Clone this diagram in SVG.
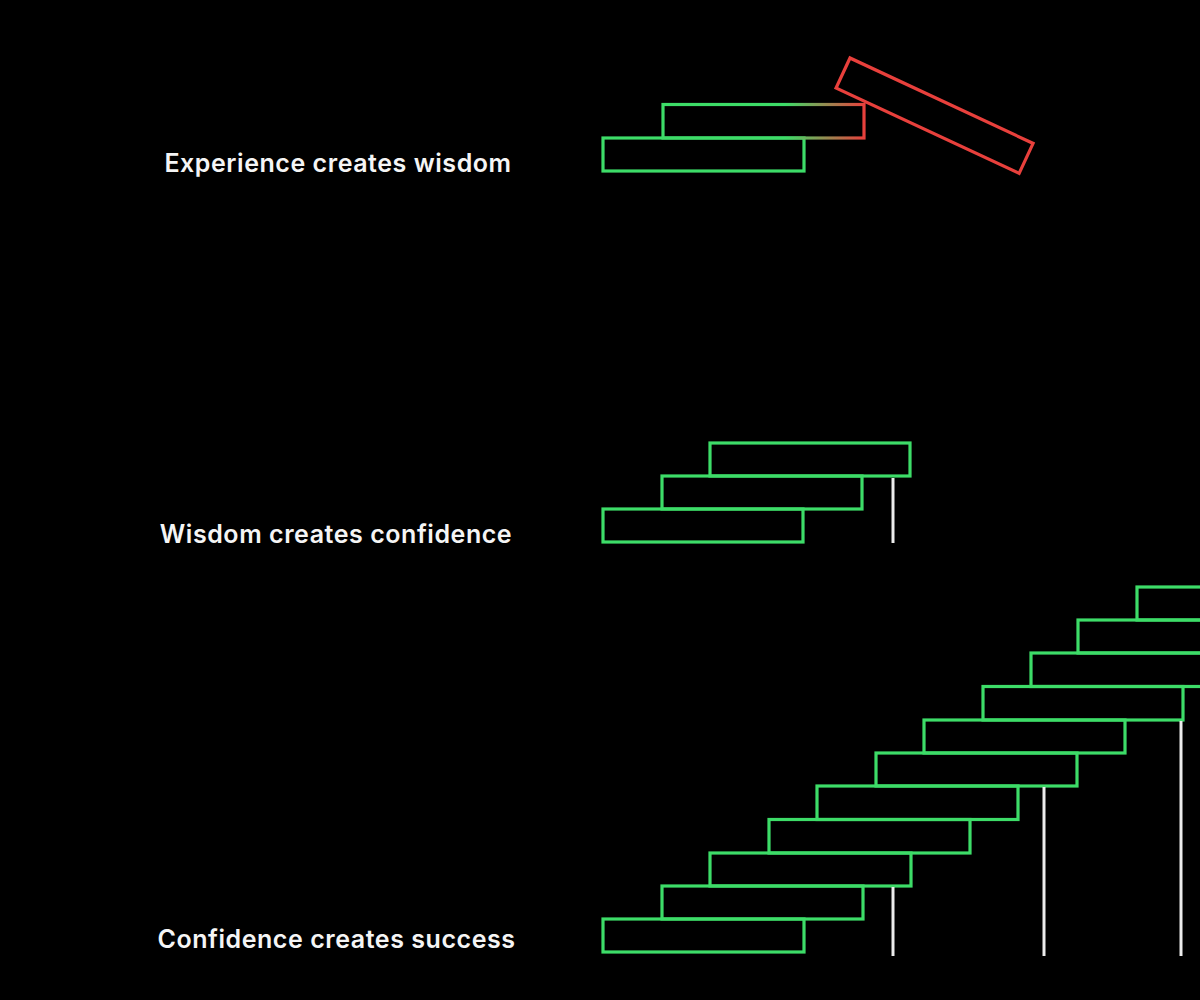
<svg xmlns="http://www.w3.org/2000/svg" width="1200" height="1000" viewBox="0 0 1200 1000">
  <defs>
    <linearGradient id="fade" gradientUnits="userSpaceOnUse" x1="785" y1="0" x2="864" y2="0">
      <stop offset="0" stop-color="#3ddc68"/>
      <stop offset="1" stop-color="#e8403c"/>
    </linearGradient>
  </defs>
  <style>
    .step { fill: none; stroke: #3ddc68; stroke-width: 3.2; }
    .fall { fill: none; stroke: #e8403c; stroke-width: 3.2; }
    .post { stroke: #ececec; stroke-width: 3; fill: none; }
    .label { fill: #f5f5f5; font-family: Inter, "Liberation Sans", sans-serif; font-weight: 600; font-size: 25px; letter-spacing: 0.55px; text-anchor: middle; }
  </style>
  <rect width="1200" height="1000" fill="#000"/>

  <g id="stage-experience">
    <text class="label" x="338" y="172">Experience creates wisdom</text>
    <rect class="step" x="603" y="138" width="201" height="33"/>
    <rect x="663" y="104.5" width="201" height="33.5" fill="none" stroke="url(#fade)" stroke-width="3.2"/>
    <rect class="fall" x="0" y="0" width="202" height="33" transform="translate(850,58) rotate(25)"/>
  </g>

  <g id="stage-wisdom">
    <text class="label" x="336" y="543">Wisdom creates confidence</text>
    <rect class="step" x="603" y="509" width="200" height="33"/>
    <rect class="step" x="662" y="476" width="200" height="33"/>
    <rect class="step" x="710" y="443" width="200" height="33"/>
  </g>

  <g id="stage-confidence">
    <text class="label" x="336.5" y="948">Confidence creates success</text>
    <rect class="step" x="603" y="919" width="201" height="33"/>
    <rect class="step" x="662" y="886" width="201" height="33"/>
    <rect class="step" x="710" y="853" width="201" height="33"/>
    <rect class="step" x="769" y="819.5" width="201" height="33.5"/>
    <rect class="step" x="817" y="786" width="201" height="33.5"/>
    <rect class="step" x="876" y="753" width="201" height="33"/>
    <rect class="step" x="924" y="720" width="201" height="33"/>
    <rect class="step" x="983" y="686.5" width="200" height="33.5"/>
    <rect class="step" x="1031" y="653" width="201" height="33.5"/>
    <rect class="step" x="1078" y="620" width="201" height="33"/>
    <rect class="step" x="1137" y="587" width="201" height="33"/>
  </g>

  <g id="connectors">
    <line class="post" x1="893" y1="478" x2="893" y2="543"/>
    <line class="post" x1="893" y1="887" x2="893" y2="956"/>
    <line class="post" x1="1044" y1="787" x2="1044" y2="956"/>
    <line class="post" x1="1181" y1="721" x2="1181" y2="956"/>
  </g>
</svg>
